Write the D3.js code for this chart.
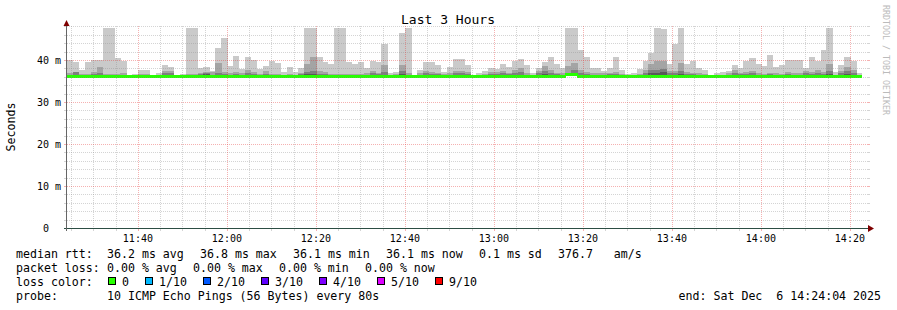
<!DOCTYPE html>
<html>
<head>
<meta charset="utf-8">
<title>Last 3 Hours</title>
<script src="https://cdn.jsdelivr.net/npm/d3@7"></script>
<style>
  body { margin: 0; background: #fff; }
  text { font-family: "DejaVu Sans Mono", monospace; white-space: pre; fill: #000; }
</style>
</head>
<body>
<script>
// one value per 80s step, 11:24:04 .. 14:24:04 (ms)
const medianRtt = [
  36.2,36.2,36.2,36.3,36.3,36.3,36.2,36.2,36.2,36.2,36.2,36.2,36.2,36.2,36.2,36.2,36.2,36.1,36.2,36.2,
  36.2,36.2,36.2,36.2,36.2,36.2,36.2,36.2,36.2,36.2,36.2,36.2,36.2,36.2,36.2,36.2,36.2,36.2,36.2,36.2,
  36.2,36.2,36.2,36.1,36.2,36.2,36.2,36.2,36.2,36.2,36.2,36.2,36.2,36.2,36.2,36.2,36.2,36.2,36.2,36.2,
  36.2,36.2,36.2,36.2,36.2,36.2,36.2,36.2,36.2,36.2,36.2,36.2,36.2,36.2,36.2,36.2,36.2,36.2,36.2,36.2,
  36.2,36.2,36.2,36.2,36.6,36.6,36.2,36.2,36.2,36.2,36.2,36.2,36.2,36.2,36.2,36.2,36.2,36.2,36.2,36.2,
  36.2,36.2,36.2,36.2,36.2,36.2,36.2,36.2,36.2,36.2,36.2,36.2,36.2,36.2,36.2,36.2,36.2,36.2,36.2,36.2,
  36.2,36.2,36.2,36.2,36.2,36.2,36.2,36.2,36.2,36.2,36.2,36.2,36.2,36.2
];
const ping10 = [
  40.1,39.5,37.6,39.5,39.9,39.9,47.6,47.6,40.4,39.8,36.4,36.7,37.6,37.6,36.3,36.9,38.8,38.3,36.3,36.7,
  47.6,47.6,38.1,38.3,37.4,42.9,45.2,38.6,41.0,37.9,40.7,40.0,37.9,38.6,39.8,39.3,37.1,38.3,37.1,38.2,
  47.6,47.6,40.6,39.5,39.1,47.6,47.6,39.5,39.1,39.5,38.0,39.8,39.5,43.7,36.8,37.1,46.5,47.6,36.4,37.6,
  39.6,39.6,38.7,37.2,38.4,40.2,40.2,38.7,36.3,36.8,37.4,38.2,37.8,39.1,38.4,39.8,40.2,38.7,36.8,38.1,
  39.6,40.6,39.1,38.1,47.6,47.6,42.4,40.6,38.2,38.0,37.4,38.2,40.8,37.6,36.6,36.8,37.8,39.8,41.7,47.7,
  47.4,39.0,43.8,47.7,39.0,39.8,38.2,37.6,36.3,37.0,37.1,37.4,38.7,38.2,39.8,40.5,39.0,38.6,41.2,38.4,
  38.7,39.9,40.0,39.9,38.0,40.6,39.8,42.4,47.6,37.2,38.7,40.8,39.8,37.0
];
const ping9 = [
  37.0,37.2,36.6,36.7,37.2,38.3,36.6,36.6,36.7,36.8,36.3,36.4,36.6,36.6,36.2,36.5,37.5,37.4,36.2,36.3,
  36.6,36.6,37.0,37.2,37.1,39.3,37.2,36.8,37.2,36.8,37.6,37.2,36.7,37.3,36.6,36.7,36.5,36.6,36.5,37.0,
  39.0,40.6,37.3,37.2,36.7,36.7,36.7,36.6,36.6,36.7,36.9,37.4,37.0,38.7,36.5,36.6,38.8,36.8,36.3,36.8,
  37.5,37.2,37.0,36.7,37.0,37.3,37.4,37.1,36.3,36.4,36.6,37.1,37.1,37.5,37.0,37.7,38.1,36.8,36.4,37.4,
  38.6,37.6,37.0,36.9,38.6,39.4,37.6,37.2,36.8,36.8,36.8,37.0,37.2,36.6,36.3,36.5,36.7,37.6,39.1,39.7,
  39.7,37.3,37.5,39.2,37.2,37.0,36.8,36.6,36.2,36.5,36.5,36.8,37.6,37.0,37.2,37.3,36.8,36.7,37.0,36.8,
  36.7,37.1,36.8,36.8,37.3,37.1,37.7,37.1,39.0,36.5,37.3,38.3,37.6,36.5
];
const ping8 = [
  36.5,37.1,36.3,36.4,36.7,36.8,36.3,36.3,36.4,36.5,36.2,36.2,36.3,36.3,36.2,36.3,36.8,36.8,36.2,36.2,
  36.3,36.3,36.6,36.8,36.5,36.8,36.6,36.4,36.6,36.4,36.9,36.6,36.3,36.7,36.3,36.4,36.3,36.3,36.3,36.6,
  37.2,37.4,36.6,36.6,36.4,36.3,36.3,36.3,36.3,36.4,36.5,36.9,36.6,37.2,36.3,36.3,37.3,36.4,36.2,36.4,
  36.9,36.7,36.6,36.4,36.5,36.8,36.9,36.6,36.2,36.2,36.3,36.6,36.6,36.9,36.6,37.0,37.1,36.4,36.2,36.8,
  37.3,37.0,36.6,36.5,37.0,37.6,36.9,36.7,36.4,36.4,36.5,36.6,36.7,36.3,36.2,36.3,36.4,36.9,37.6,37.7,
  37.9,36.8,37.0,37.5,36.7,36.6,36.4,36.3,36.2,36.3,36.3,36.4,37.0,36.6,36.7,36.8,36.4,36.4,36.6,36.5,
  36.4,36.7,36.4,36.4,36.8,36.6,37.0,36.6,37.4,36.3,36.8,37.4,37.0,36.3
];
const ping7 = [
  36.2,36.3,36.2,36.2,36.3,36.3,36.2,36.2,36.2,36.2,36.2,36.2,36.2,36.2,36.2,36.2,36.3,36.3,36.2,36.2,
  36.2,36.2,36.3,36.6,36.2,36.3,36.2,36.2,36.2,36.2,36.4,36.2,36.2,36.3,36.2,36.2,36.2,36.2,36.2,36.2,
  36.6,36.7,36.2,36.2,36.2,36.2,36.2,36.2,36.2,36.2,36.2,36.4,36.2,36.5,36.2,36.2,36.6,36.2,36.2,36.2,
  36.4,36.3,36.2,36.2,36.2,36.3,36.4,36.2,36.2,36.2,36.2,36.2,36.2,36.5,36.2,36.3,36.5,36.2,36.2,36.3,
  36.6,36.4,36.2,36.2,36.9,36.9,36.4,36.3,36.2,36.2,36.2,36.2,36.3,36.2,36.2,36.2,36.2,36.4,36.9,36.9,
  37.1,36.3,36.5,36.7,36.3,36.2,36.2,36.2,36.2,36.2,36.2,36.2,36.4,36.2,36.3,36.3,36.2,36.2,36.2,36.2,
  36.2,36.3,36.2,36.2,36.3,36.2,36.4,36.2,36.6,36.2,36.3,36.7,36.4,36.2
];

const yTicks = [0, 10, 20, 30, 40];
const xTickLabels = ["11:40", "12:00", "12:20", "12:40", "13:00", "13:20", "13:40", "14:00", "14:20"];
const lossLegend = [["0", "#26ff00"], ["1/10", "#00b8ff"], ["2/10", "#0059ff"], ["3/10", "#5e00ff"],
                    ["4/10", "#7e00ff"], ["5/10", "#dd00ff"], ["9/10", "#ff0000"]];
const rttStats = ["36.2 ms avg", "36.8 ms max", "36.1 ms min", "36.1 ms now", "0.1 ms sd", "376.7   am/s"];
const lossStats = ["0.00 % avg", "0.00 % max", "0.00 % min", "0.00 % now"];

const W = 897, H = 310;
const svg = d3.select('body').append('svg').attr('width', W).attr('height', H);
svg.append('rect').attr('width', W).attr('height', H).attr('fill', '#fff');

const start = new Date(2025, 11, 6, 11, 24, 4);
const end = new Date(2025, 11, 6, 14, 24, 4);
const x = d3.scaleTime().domain([start, end]).range([67, 868]);
const y = d3.scaleLinear().domain([0, 48]).range([228, 26.4]);

const steps = medianRtt.map((m, i) => ({
  t0: d3.timeSecond.offset(start, i * 80),
  t1: d3.timeSecond.offset(start, (i + 1) * 80),
  m: m, p10: ping10[i], p9: ping9[i], p8: ping8[i], p7: ping7[i]
}));

// smoke, lightest (outer pings) first
const layers = [['p10', '#cacaca'], ['p9', '#a4a4a4'], ['p8', '#7e7e7e'], ['p7', '#585858']];
const plot = svg.append('g').attr('shape-rendering', 'crispEdges');
layers.forEach(([key, color]) => {
  plot.append('g').selectAll('rect').data(steps).enter().append('rect')
    .attr('x', d => x(d.t0))
    .attr('width', d => x(d.t1) - x(d.t0) + 0.4)
    .attr('y', d => y(d[key]))
    .attr('height', d => Math.max(0, y(d.m) - y(d[key])))
    .attr('fill', color);
});

// median, coloured by loss (all 0)
plot.append('g').selectAll('rect').data(steps).enter().append('rect')
  .attr('x', d => x(d.t0))
  .attr('width', d => x(d.t1) - x(d.t0) + 0.4)
  .attr('y', d => y(d.m) - 1)
  .attr('height', 3)
  .attr('fill', lossLegend[0][1]);

// grid
const grid = svg.append('g');
const minorY = d3.range(2, 49, 2).filter(v => v % 10 !== 0);
const majorY = yTicks.filter(v => v > 0);
const minorX = d3.timeMinute.every(5).range(start, end).filter(t => t.getMinutes() % 20 !== 0);
const majorX = d3.timeMinute.every(20).range(start, end);

function hLines(vals, color) {
  grid.append('g').selectAll('line').data(vals).enter().append('line')
    .attr('x1', 67).attr('x2', 868)
    .attr('y1', d => Math.round(y(d)) + 0.5).attr('y2', d => Math.round(y(d)) + 0.5)
    .attr('stroke', color).attr('stroke-dasharray', '1,1');
  grid.append('g').selectAll('path').data(vals).enter().append('path')
    .attr('d', d => { const yy = Math.round(y(d)) + 0.5; return `M64,${yy}H66M868,${yy}H870`; })
    .attr('stroke', color);
}
function vLines(vals, color) {
  grid.append('g').selectAll('line').data(vals).enter().append('line')
    .attr('x1', d => Math.round(x(d)) + 0.5).attr('x2', d => Math.round(x(d)) + 0.5)
    .attr('y1', 26).attr('y2', 228)
    .attr('stroke', color).attr('stroke-dasharray', '1,1');
  grid.append('g').selectAll('path').data(vals).enter().append('path')
    .attr('d', d => { const xx = Math.round(x(d)) + 0.5; return `M${xx},229V231`; })
    .attr('stroke', color);
}
hLines(minorY, 'rgba(143,143,143,0.38)');
vLines(minorX, 'rgba(143,143,143,0.38)');
hLines(majorY, 'rgba(230,60,60,0.4)');
vLines(majorX, 'rgba(230,60,60,0.4)');

// axes
const axisColor = '#2c4d43';
svg.append('path').attr('d', 'M64,228.5H869').attr('stroke', axisColor);
svg.append('path').attr('d', 'M66.5,231V24').attr('stroke', '#666');
svg.append('path').attr('d', 'M868,225L874,228.5L868,232Z').attr('fill', '#7f0000');
svg.append('path').attr('d', 'M63.5,26L66.5,20L69.5,26Z').attr('fill', '#7f0000');

// axis labels
svg.append('g').selectAll('text').data(yTicks).enter().append('text')
  .attr('x', d => d === 0 ? 49 : 61)
  .attr('y', d => y(d) + 3.6)
  .attr('text-anchor', 'end')
  .style('font-size', '10px')
  .text(d => d === 0 ? '0' : d + ' m');

svg.append('g').selectAll('text').data(majorX).enter().append('text')
  .attr('x', d => x(d))
  .attr('y', 241.8)
  .attr('text-anchor', 'middle')
  .style('font-size', '10px')
  .text((d, i) => xTickLabels[i]);

svg.append('text').attr('transform', 'translate(448,24)').attr('text-anchor', 'middle')
  .style('font-size', '13px').text('Last 3 Hours');

svg.append('text').attr('transform', 'translate(15,127) rotate(-90)').attr('text-anchor', 'middle')
  .style('font-size', '11.6px').text('Seconds');

svg.append('text').attr('transform', 'translate(883,5) rotate(90)')
  .style('font-size', '8.3px').style('fill', '#bbbbbb').text('RRDTOOL / TOBI OETIKER');

// legend
const fs = '11.6px', cw = 7, gap = 16, col = 107;
const rows = [258.2, 272.2, 286.2, 300.2];
function label(txt, yy) {
  svg.append('text').attr('x', 16).attr('y', yy).style('font-size', fs).text(txt);
}
function segments(list, yy) {
  let xx = col;
  list.forEach(s => {
    svg.append('text').attr('x', xx).attr('y', yy).style('font-size', fs).text(s);
    xx += s.length * cw + gap;
  });
}
label('median rtt:', rows[0]); segments(rttStats, rows[0]);
label('packet loss:', rows[1]); segments(lossStats, rows[1]);
label('loss color:', rows[2]);
let lx = 108;
lossLegend.forEach(([txt, color]) => {
  svg.append('rect').attr('x', lx + 0.5).attr('y', 277.5).attr('width', 7).attr('height', 7)
    .attr('fill', color).attr('stroke', '#000').attr('shape-rendering', 'crispEdges');
  svg.append('text').attr('x', lx + 14).attr('y', rows[2]).style('font-size', fs).text(txt);
  lx += 14 + txt.length * cw + gap;
});
label('probe:', rows[3]);
svg.append('text').attr('x', col).attr('y', rows[3]).style('font-size', fs)
  .text('10 ICMP Echo Pings (56 Bytes) every 80s');
svg.append('text').attr('x', 881).attr('y', rows[3]).attr('text-anchor', 'end').style('font-size', fs)
  .text('end: Sat Dec  6 14:24:04 2025');
</script>
</body>
</html>
